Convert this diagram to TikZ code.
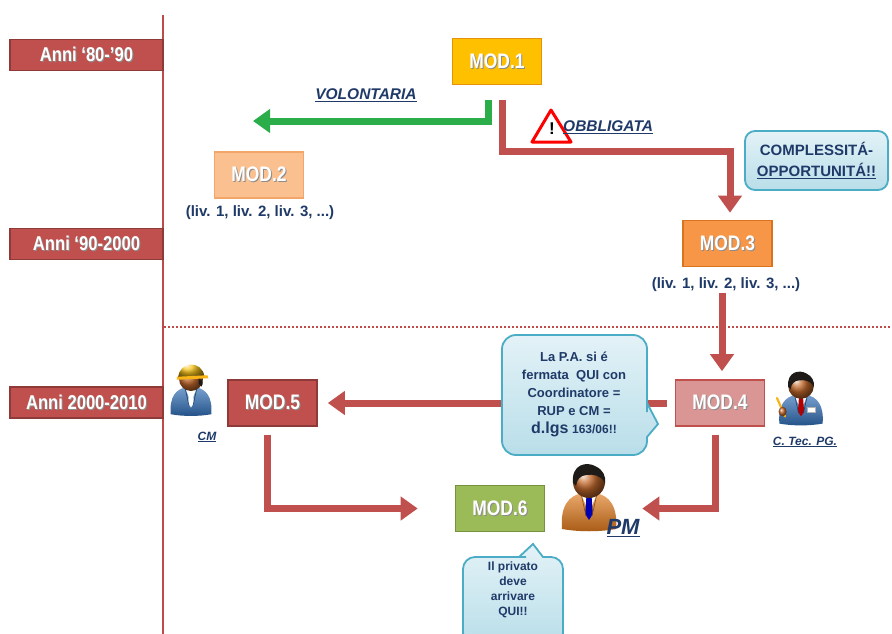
\documentclass[tikz,border=0pt]{standalone}
\usepackage{fontspec}
\setmainfont{Liberation Sans}
\newfontfamily\narrowsans{Liberation Sans}[FakeStretch=0.83]
\usetikzlibrary{arrows.meta}

\definecolor{modred}{HTML}{C0504D}
\definecolor{modredline}{HTML}{8E3A38}
\definecolor{timeline}{HTML}{BE4B48}
\definecolor{gold}{HTML}{FFC000}
\definecolor{goldline}{HTML}{E8920C}
\definecolor{peach}{HTML}{FAC090}
\definecolor{peachline}{HTML}{F2A66A}
\definecolor{orng}{HTML}{F79646}
\definecolor{orngline}{HTML}{D8741E}
\definecolor{rose}{HTML}{D99694}
\definecolor{roseline}{HTML}{C0504D}
\definecolor{olive}{HTML}{9BBB59}
\definecolor{oliveline}{HTML}{76923C}
\definecolor{flowgreen}{HTML}{2BAE4A}
\definecolor{navy}{HTML}{1F3A68}
\definecolor{calltop}{HTML}{E3F2F7}
\definecolor{callbot}{HTML}{B9DEE9}
\definecolor{callline}{HTML}{4BACC6}
\definecolor{skin}{HTML}{C46A2C}
\definecolor{hair}{HTML}{1E1A18}
\definecolor{suitorange}{HTML}{E07A1C}
\definecolor{suitblue}{HTML}{2F6DB5}
\definecolor{hatyellow}{HTML}{F6C21A}

% white text with a soft drop shadow
\newcommand{\shtext}[1]{\leavevmode\rlap{\kern1pt\raisebox{-1pt}{\color{black!45}#1}}#1}

% generic figure: #1 head centre, #2 scale, #3 suit colour, #4 tie colour
\newcommand{\drawperson}[4]{%
  \begin{scope}[shift={#1}, scale=#2]
    \shade[top color=#3!65!white, bottom color=#3!75!black]
      (-27,47) .. controls (-29,24) and (-20,13) .. (-6,11) -- (6,11)
      .. controls (20,13) and (29,24) .. (27,47)
      .. controls (10,50) and (-10,50) .. (-27,47) -- cycle;
    \fill[white] (-8,11.5) -- (0,31) -- (8,11.5) -- cycle;
    \fill[#4] (-2.5,13) -- (2.5,13) -- (3.8,32) -- (0,38) -- (-3.8,32) -- cycle;
    \draw[#3!60!black, line width=0.6pt] (-8,11.5) -- (-3,34);
    \draw[#3!60!black, line width=0.6pt] (8,11.5) -- (3,34);
    \shade[ball color=skin] (0,0) circle (16);
  \end{scope}}

\newcommand{\drawhair}[2]{%
  \begin{scope}[shift={#1}, scale=#2]
    \fill[hair] (-16,1) .. controls (-18,-18) and (-2,-21) .. (7,-15.5)
      .. controls (14,-12) and (17,-6) .. (16,1)
      .. controls (12,-7) and (4,-8) .. (-3,-7)
      .. controls (-9,-6) and (-12,-3) .. (-13,4) -- cycle;
  \end{scope}}

\begin{document}
\begin{tikzpicture}[x=1pt, y=-1pt,
  yearbox/.style={draw=modredline, fill=modred, line width=1.2pt,
    minimum width=153pt, minimum height=31pt, inner sep=0pt, text=white,
    font=\narrowsans\bfseries\fontsize{20}{22}\selectfont},
  modbox/.style={line width=1.6pt, minimum width=89pt, minimum height=46pt,
    inner sep=0pt, text=white,
    font=\narrowsans\bfseries\fontsize{21}{24}\selectfont},
  levels/.style={text=navy, font=\bfseries\fontsize{15}{18}\selectfont, inner sep=1pt},
  flow/.style={draw=modred, line width=7pt, -{Triangle[width=23pt,length=17pt]}},
  greenflow/.style={flow, draw=flowgreen},
  tag/.style={text=navy, font=\bfseries\itshape\fontsize{15.5}{17}\selectfont, inner sep=1pt},
  smalltag/.style={text=navy, font=\bfseries\itshape\fontsize{12}{14}\selectfont, inner sep=1pt},
  callout/.style={top color=calltop, bottom color=callbot, draw=callline, line width=1.8pt},
  calltext/.style={text=navy, align=center, inner sep=0pt}
]
\clip (0,0) rectangle (892,634);
\fill[white] (0,0) rectangle (892,634);

% time axis and period separator
\draw[timeline, line width=2.5pt] (163,15) -- (163,634);
\draw[timeline, line width=1.6pt, dash pattern=on 2pt off 2pt] (164,327) -- (892,327);

% period labels
\node[yearbox] (y80) at (86.5,55) {\shtext{Anni ‘80-’90}};
\node[yearbox] (y90) at (86.5,244) {\shtext{Anni ‘90-2000}};
\node[yearbox] (y00) at (86.5,402.5) {\shtext{Anni 2000-2010}};

% models
\node[modbox, fill=gold, draw=goldline] (mod1) at (497,61.5) {\shtext{MOD.1}};
\node[modbox, fill=peach, draw=peachline] (mod2) at (259,175) {\shtext{MOD.2}};
\node[modbox, fill=orng, draw=orngline] (mod3) at (727.5,243.5) {\shtext{MOD.3}};
\node[modbox, fill=rose, draw=roseline] (mod4) at (720,403) {\shtext{MOD.4}};
\node[modbox, fill=modred, draw=modredline] (mod5) at (272.5,403) {\shtext{MOD.5}};
\node[modbox, fill=olive, draw=oliveline] (mod6) at (500,508.5) {\shtext{MOD.6}};

\node[levels] (l2) at (260,213) {(liv. 1, liv. 2, liv. 3, ...)};
\node[levels] (l3) at (726,285) {(liv. 1, liv. 2, liv. 3, ...)};

% branches out of MOD.1
\coordinate (g0) at (488,100);
\coordinate (g1) at (253,121);
\draw[greenflow] (g0) -- (488,121) -- (g1);
\coordinate (r0) at (502,100);
\draw[flow] (r0) -- (502,151) -| ([xshift=2.5pt,yshift=7pt]mod3.north);

% sequence of models
\draw[flow] ([xshift=2pt]mod4.north |- l3.south) -- ([xshift=2pt,yshift=8pt]mod4.north);
\draw[flow] ([xshift=-8pt]mod4.west) -- ([xshift=10pt]mod5.east);
\draw[flow] ([xshift=-5pt,yshift=-8pt]mod5.south) |- ([xshift=-37pt]mod6.west);
\draw[flow] ([xshift=-5pt,yshift=-8pt]mod4.south) |- ([xshift=97pt]mod6.east);

% branch labels
\node[tag] (vol) at (366,95) {\underline{VOLONTARIA}};
\draw[red, line width=3pt, fill=white, line join=round]
  (551,110) -- (571,142) -- (532,142) -- cycle;
\node[font=\bfseries\fontsize{17}{17}\selectfont, inner sep=0pt] (warn) at (552,129) {!};
\node[tag, anchor=west] (obb) at (562,127) {\underline{OBBLIGATA}};

% callouts
\node[callout, rounded corners=10pt, minimum width=143pt, minimum height=59pt,
  calltext, font=\bfseries\fontsize{15}{21}\selectfont] (cx) at (816.5,160.5)
  {COMPLESSITÁ-\\\underline{OPPORTUNITÁ!!}};

\shadedraw[callout] (575,335) [rounded corners=14pt] -- (647,335)
  -- (647,398) [sharp corners] -- (647,403) -- (658,424) -- (647,437)
  -- (647,442) [rounded corners=14pt] -- (647,455) -- (502,455) -- (502,335)
  -- cycle;
\node[calltext, font=\bfseries\fontsize{13}{18}\selectfont] (pa) at (574,394)
  {La P.A. si é\\fermata\ \ QUI con\\Coordinatore =\\RUP e CM =\\
   {\fontsize{16}{18}\selectfont d.lgs} {\fontsize{12}{18}\selectfont 163/06!!}};

\shadedraw[callout] (490,645) [rounded corners=12pt] -- (463,645) -- (463,557)
  -- (514,557) [sharp corners] -- (519,557) -- (533,544) -- (543,557) -- (548,557)
  [rounded corners=12pt] -- (563,557) -- (563,645) -- cycle;
\node[calltext, font=\bfseries\fontsize{12}{15}\selectfont] (priv) at (513,590)
  {Il privato\\deve\\arrivare\\QUI!!};

% CM figure with hard hat
\drawperson{(191,379)}{0.75}{suitblue}{white}
\begin{scope}[shift={(191,379)}, scale=0.75]
  \shade[ball color=hatyellow] (-17,-1) .. controls (-17,-24) and (15,-26) .. (18,-3) -- cycle;
  \fill[hatyellow!80!orange] (-19,-3) -- (22,-5) -- (23,-1) -- (-19,1) -- cycle;
  \fill[hair] (10,0) .. controls (16,0) and (17,6) .. (14,10) -- (10,6) -- cycle;
\end{scope}
\node[smalltag] (cm) at (207,437) {\underline{CM}};

% project technician figure
\drawperson{(801,386)}{0.8}{suitblue}{red!70!black}
\drawhair{(801,386)}{0.8}
\begin{scope}[shift={(801,386)}, scale=0.8]
  \fill[white, draw=black!30, line width=0.4pt] (8,26) rectangle (18,33);
  \draw[hatyellow!80!orange, line width=2.2pt, line cap=round] (-30,15) -- (-20,38);
  \shade[ball color=skin] (-23,32) ellipse (5 and 6);
\end{scope}
\node[smalltag] (tec) at (805,442) {\underline{C. Tec. PG.}};

% project manager figure
\drawperson{(589,482)}{1}{suitorange}{blue!70!black}
\drawhair{(589,482)}{1}
\node[text=navy, font=\bfseries\itshape\fontsize{22}{24}\selectfont, inner sep=1pt] (pm)
  at (623,528) {\underline{PM}};

\end{tikzpicture}
\end{document}
